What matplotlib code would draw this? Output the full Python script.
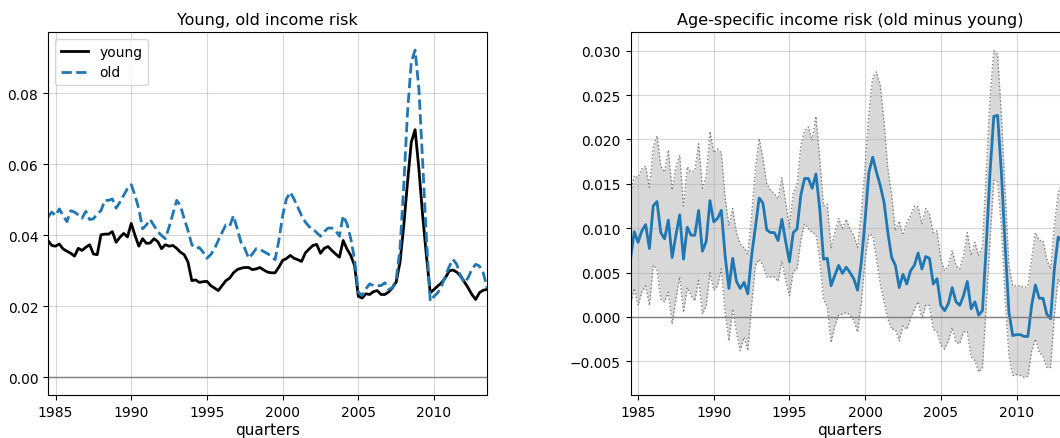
import numpy as np
import matplotlib
matplotlib.use("Agg")
import matplotlib.pyplot as plt

# quarterly dates 1984Q3 .. 2013Q3 (decimal years)
quarters = np.arange(1984.5, 2013.5 + 0.001, 0.25)

young = [
    0.0385, 0.0371,
    0.0369, 0.0375, 0.0361, 0.0355,
    0.0349, 0.0341, 0.0363, 0.0357,
    0.0366, 0.0373, 0.0347, 0.0345,
    0.0401, 0.0403, 0.0403, 0.0410,
    0.0380, 0.0394, 0.0405, 0.0395,
    0.0433, 0.0399, 0.0369, 0.0390,
    0.0377, 0.0378, 0.0390, 0.0382,
    0.0362, 0.0373, 0.0369, 0.0371,
    0.0363, 0.0352, 0.0345, 0.0324,
    0.0272, 0.0274, 0.0267, 0.0269,
    0.0270, 0.0258, 0.0251, 0.0244,
    0.0258, 0.0272, 0.0279, 0.0294,
    0.0303, 0.0307, 0.0309, 0.0309,
    0.0303, 0.0305, 0.0309, 0.0302,
    0.0296, 0.0294, 0.0294, 0.0310,
    0.0329, 0.0334, 0.0343, 0.0335,
    0.0331, 0.0326, 0.0350, 0.0361,
    0.0371, 0.0374, 0.0349, 0.0363,
    0.0368, 0.0357, 0.0347, 0.0338,
    0.0385, 0.0361, 0.0343, 0.0315,
    0.0228, 0.0223, 0.0235, 0.0233,
    0.0241, 0.0244, 0.0233, 0.0233,
    0.0240, 0.0252, 0.0268, 0.0323,
    0.0426, 0.0549, 0.0662, 0.0697,
    0.0587, 0.0455, 0.0341, 0.0238,
    0.0247, 0.0257, 0.0266, 0.0280,
    0.0299, 0.0302, 0.0296, 0.0285,
    0.0269, 0.0252, 0.0233, 0.0219,
    0.0238, 0.0245, 0.0247,
]

old = [
    0.0451, 0.0465,
    0.0455, 0.0474, 0.0455, 0.0438,
    0.0469, 0.0465, 0.0457, 0.0448,
    0.0467, 0.0444, 0.0446, 0.0460,
    0.0469, 0.0498, 0.0498, 0.0502,
    0.0476, 0.0493, 0.0512, 0.0531,
    0.0542, 0.0512, 0.0474, 0.0418,
    0.0429, 0.0444, 0.0427, 0.0410,
    0.0399, 0.0390, 0.0423, 0.0460,
    0.0498, 0.0483, 0.0446, 0.0413,
    0.0373, 0.0363, 0.0365, 0.0352,
    0.0335, 0.0345, 0.0362, 0.0385,
    0.0408, 0.0429, 0.0425, 0.0455,
    0.0418, 0.0380, 0.0363, 0.0335,
    0.0347, 0.0362, 0.0360, 0.0354,
    0.0348, 0.0341, 0.0331, 0.0385,
    0.0455, 0.0502, 0.0521, 0.0502,
    0.0479, 0.0455, 0.0437, 0.0424,
    0.0418, 0.0407, 0.0397, 0.0410,
    0.0420, 0.0420, 0.0413, 0.0397,
    0.0455, 0.0432, 0.0390, 0.0333,
    0.0239, 0.0230, 0.0249, 0.0263,
    0.0258, 0.0258, 0.0258, 0.0266,
    0.0247, 0.0252, 0.0275, 0.0360,
    0.0539, 0.0747, 0.0888, 0.0921,
    0.0813, 0.0606, 0.0389, 0.0214,
    0.0228, 0.0238, 0.0257, 0.0285,
    0.0311, 0.0332, 0.0318, 0.0285,
    0.0266, 0.0280, 0.0304, 0.0318,
    0.0313, 0.0294, 0.0252,
]

diff = [
    0.0065, 0.0096,
    0.0084, 0.0097, 0.0104, 0.0077,
    0.0125, 0.0130, 0.0095, 0.0088,
    0.0109, 0.0067, 0.0092, 0.0115,
    0.0065, 0.0101, 0.0092, 0.0092,
    0.0120, 0.0074, 0.0085, 0.0131,
    0.0107, 0.0111, 0.0120, 0.0069,
    0.0032, 0.0066, 0.0040, 0.0032,
    0.0039, 0.0026, 0.0069, 0.0101,
    0.0134, 0.0128, 0.0098, 0.0095,
    0.0095, 0.0086, 0.0110, 0.0085,
    0.0062, 0.0095, 0.0099, 0.0137,
    0.0156, 0.0156, 0.0145, 0.0161,
    0.0122, 0.0065, 0.0066, 0.0035,
    0.0047, 0.0058, 0.0049, 0.0056,
    0.0050, 0.0043, 0.0030, 0.0062,
    0.0110, 0.0163, 0.0180, 0.0163,
    0.0148, 0.0129, 0.0095, 0.0067,
    0.0058, 0.0033, 0.0048, 0.0037,
    0.0052, 0.0058, 0.0072, 0.0054,
    0.0068, 0.0066, 0.0037, 0.0043,
    0.0013, 0.0007, 0.0015, 0.0033,
    0.0017, 0.0013, 0.0024, 0.0040,
    0.0009, 0.0017, 0.0002, 0.0007,
    0.0080, 0.0163, 0.0226, 0.0227,
    0.0163, 0.0080, 0.0005, -0.0021,
    -0.0020, -0.0020, -0.0022, -0.0022,
    0.0013, 0.0036, 0.0021, 0.0021,
    0.0003, -0.0002, 0.0054, 0.0090,
    0.0085, 0.0050, 0.0010,
]

upper = [
    0.0137, 0.0159,
    0.0157, 0.0167, 0.0170, 0.0146,
    0.0191, 0.0204, 0.0170, 0.0163,
    0.0188, 0.0143, 0.0169, 0.0182,
    0.0125, 0.0169, 0.0163, 0.0165,
    0.0195, 0.0145, 0.0158, 0.0209,
    0.0185, 0.0189, 0.0185, 0.0134,
    0.0103, 0.0122, 0.0095, 0.0082,
    0.0078, 0.0071, 0.0114, 0.0167,
    0.0201, 0.0178, 0.0150, 0.0143,
    0.0139, 0.0133, 0.0157, 0.0129,
    0.0101, 0.0140, 0.0148, 0.0193,
    0.0210, 0.0214, 0.0199, 0.0226,
    0.0178, 0.0125, 0.0127, 0.0078,
    0.0095, 0.0111, 0.0100, 0.0110,
    0.0099, 0.0092, 0.0078, 0.0118,
    0.0170, 0.0230, 0.0270, 0.0276,
    0.0261, 0.0219, 0.0167, 0.0137,
    0.0097, 0.0108, 0.0092, 0.0107,
    0.0114, 0.0125, 0.0124, 0.0105,
    0.0122, 0.0116, 0.0095, 0.0097,
    0.0065, 0.0052, 0.0058, 0.0075,
    0.0058, 0.0054, 0.0069, 0.0095,
    0.0069, 0.0084, 0.0069, 0.0080,
    0.0163, 0.0246, 0.0300, 0.0296,
    0.0227, 0.0140, 0.0058, 0.0035,
    0.0035, 0.0035, 0.0033, 0.0035,
    0.0065, 0.0095, 0.0086, 0.0086,
    0.0065, 0.0054, 0.0103, 0.0140,
    0.0150, 0.0115, 0.0075,
]

lower = [
    0.0013, 0.0032,
    0.0013, 0.0028, 0.0035, 0.0013,
    0.0058, 0.0054, 0.0020, 0.0017,
    0.0028, -0.0008, 0.0020, 0.0045,
    0.0005, 0.0033, 0.0024, 0.0018,
    0.0043, 0.0003, 0.0013, 0.0050,
    0.0030, 0.0035, 0.0054, 0.0005,
    -0.0027, 0.0009, -0.0017, -0.0038,
    -0.0023, -0.0038, 0.0013, 0.0058,
    0.0065, 0.0058, 0.0045, 0.0045,
    0.0045, 0.0040, 0.0063, 0.0041,
    0.0024, 0.0051, 0.0054, 0.0086,
    0.0105, 0.0099, 0.0095, 0.0093,
    0.0065, 0.0020, 0.0011, -0.0029,
    -0.0010, 0.0002, 0.0003, 0.0005,
    0.0002, -0.0004, -0.0017, 0.0017,
    0.0065, 0.0093, 0.0092, 0.0065,
    0.0037, 0.0017, -0.0002, -0.0014,
    -0.0014, -0.0027, -0.0010, -0.0014,
    -0.0002, 0.0009, 0.0017, -0.0002,
    0.0013, 0.0013, -0.0014, -0.0017,
    -0.0032, -0.0036, -0.0027, -0.0012,
    -0.0029, -0.0030, -0.0017, -0.0017,
    -0.0045, -0.0049, -0.0062, -0.0057,
    0.0013, 0.0085, 0.0154, 0.0152,
    0.0103, 0.0020, -0.0044, -0.0066,
    -0.0065, -0.0066, -0.0068, -0.0067,
    -0.0038, -0.0025, -0.0040, -0.0044,
    -0.0057, -0.0057, 0.0002, 0.0043,
    0.0030, 0.0000, -0.0030,
]

fig = plt.figure(figsize=(10.6, 4.39), dpi=100)
ax1 = fig.add_axes([48 / 1060, 43 / 439, 439 / 1060, 363 / 439])
ax2 = fig.add_axes([630.5 / 1060, 43 / 439, 439 / 1060, 363 / 439])

# left panel
ax1.plot(quarters, young, color="black", lw=2, label="young")
ax1.plot(quarters, old, color="C0", lw=2, ls="--", label="old")
ax1.axhline(0, color="gray", lw=1)
ax1.set_xlim(quarters[0], quarters[-1])
ax1.set_ylim(-0.0050, 0.0972)
ax1.grid(alpha=0.5)
ax1.legend(loc="upper left", fontsize=10)
ax1.set_title("Young, old income risk", fontsize=11.5)
ax1.set_xlabel("quarters", fontsize=11, labelpad=2.5)

# right panel
ax2.fill_between(quarters, lower, upper, color="grey", alpha=0.3, lw=0)
ax2.plot(quarters, upper, color="grey", ls=":", lw=1)
ax2.plot(quarters, lower, color="grey", ls=":", lw=1)
ax2.plot(quarters, diff, color="C0", lw=2)
ax2.axhline(0, color="gray", lw=1)
ax2.set_xlim(quarters[0], quarters[-1])
ax2.set_ylim(-0.0088, 0.0321)
ax2.grid(alpha=0.5)
ax2.set_title("Age-specific income risk (old minus young)", fontsize=11.5)
ax2.set_xlabel("quarters", fontsize=11, labelpad=2.5)

for ax in (ax1, ax2):
    ax.tick_params(labelsize=10)

fig.savefig("out.png", dpi=100)
